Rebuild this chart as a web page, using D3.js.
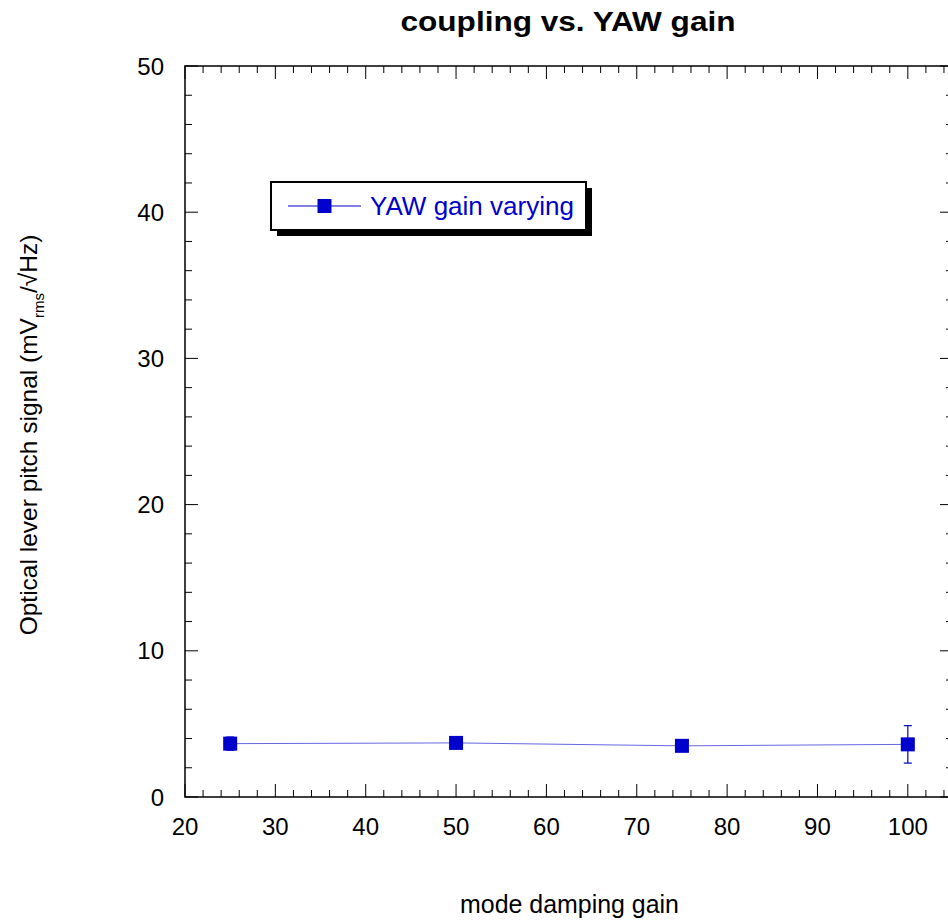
<!DOCTYPE html>
<html><head><meta charset="utf-8">
<script src="https://cdn.jsdelivr.net/npm/d3@7"></script>
<style>body{margin:0;background:#fff}svg{display:block}text{font-family:"Liberation Sans",Arial,sans-serif}</style>
</head><body>
<svg id="c" width="948" height="924"></svg>
<script>
const gains = [25, 50, 75, 100];
const signal = [3.65, 3.7, 3.5, 3.6];
const errors = [0.45, 0.2, 0.2, 1.28];
const xMajor = [20, 30, 40, 50, 60, 70, 80, 90, 100];
const yMajor = [0, 10, 20, 30, 40, 50];
const seriesName = "YAW gain varying";
const blue = "#0000cc";

const svg = d3.select("#c");
const L = 185, R = 953, T = 66, B = 797;
const x = d3.scaleLinear().domain([20, 105]).range([L, R]);
const y = d3.scaleLinear().domain([0, 50]).range([B, T]);
const xMinor = d3.range(20, 105, 2).filter(v => v % 10 !== 0);
const yMinor = d3.range(0, 50, 2).filter(v => v % 10 !== 0);

// frame
svg.append("rect").attr("x", L).attr("y", T).attr("width", R - L).attr("height", B - T)
  .attr("fill", "none").attr("stroke", "#000").attr("stroke-width", 1.5);

const tk = svg.append("g").attr("stroke", "#000").attr("stroke-width", 1);
function xt(vals, len) {
  vals.forEach(v => {
    tk.append("line").attr("x1", x(v)).attr("x2", x(v)).attr("y1", B).attr("y2", B - len);
    tk.append("line").attr("x1", x(v)).attr("x2", x(v)).attr("y1", T).attr("y2", T + len);
  });
}
function yt(vals, len) {
  vals.forEach(v => {
    tk.append("line").attr("y1", y(v)).attr("y2", y(v)).attr("x1", L).attr("x2", L + len);
    tk.append("line").attr("y1", y(v)).attr("y2", y(v)).attr("x1", R).attr("x2", R - len);
  });
}
xt(xMajor, 13); xt(xMinor, 7); yt(yMajor, 13); yt(yMinor, 7);

// tick labels
svg.append("g").selectAll("text").data(xMajor).join("text")
  .attr("x", d => x(d)).attr("y", 835).attr("text-anchor", "middle")
  .attr("font-size", 24).text(d => d);
svg.append("g").selectAll("text").data(yMajor).join("text")
  .attr("x", 164).attr("y", d => y(d) + 8.5).attr("text-anchor", "end")
  .attr("font-size", 24).text(d => d);

// title & labels
svg.append("text").attr("x", 568).attr("y", 31).attr("text-anchor", "middle")
  .attr("font-size", 27).attr("font-weight", "bold")
  .attr("textLength", 335).attr("lengthAdjust", "spacingAndGlyphs")
  .text("coupling vs. YAW gain");
svg.append("text").attr("x", 569.5).attr("y", 913).attr("text-anchor", "middle")
  .attr("font-size", 26).attr("textLength", 219).attr("lengthAdjust", "spacingAndGlyphs")
  .text("mode damping gain");
const yl = svg.append("text").attr("transform", "translate(37,435) rotate(-90)")
  .attr("text-anchor", "middle").attr("font-size", 24.5);
yl.append("tspan").text("Optical lever pitch signal (mV");
yl.append("tspan").attr("font-size", 15).attr("dy", 7).text("rms");
yl.append("tspan").attr("dy", -7).text("/\u221AHz)");

// data
const data = gains.map((g, i) => ({g, v: signal[i], e: errors[i]}));
svg.append("path").datum(data)
  .attr("d", d3.line().x(d => x(d.g)).y(d => y(d.v)))
  .attr("fill", "none").attr("stroke", blue).attr("stroke-width", 1).attr("stroke-opacity", 0.6);
const eb = svg.append("g").attr("stroke", blue).attr("stroke-width", 1.2);
data.forEach(d => {
  eb.append("line").attr("x1", x(d.g)).attr("x2", x(d.g)).attr("y1", y(d.v - d.e)).attr("y2", y(d.v + d.e));
  [d.v - d.e, d.v + d.e].forEach(t => eb.append("line")
    .attr("x1", x(d.g) - 4).attr("x2", x(d.g) + 4).attr("y1", y(t)).attr("y2", y(t)));
});
svg.append("g").selectAll("rect").data(data).join("rect")
  .attr("x", d => x(d.g) - 7).attr("y", d => y(d.v) - 7)
  .attr("width", 14).attr("height", 14).attr("fill", blue);

// legend
const lg = svg.append("g");
lg.append("rect").attr("x", 277).attr("y", 188).attr("width", 315).attr("height", 48).attr("fill", "#000");
lg.append("rect").attr("x", 271).attr("y", 182).attr("width", 315).attr("height", 48)
  .attr("fill", "#fff").attr("stroke", "#000").attr("stroke-width", 2);
lg.append("line").attr("x1", 288).attr("x2", 361).attr("y1", 206).attr("y2", 206)
  .attr("stroke", blue).attr("stroke-width", 1);
lg.append("rect").attr("x", 317.5).attr("y", 199).attr("width", 14).attr("height", 14).attr("fill", blue);
lg.append("text").attr("x", 370).attr("y", 215).attr("font-size", 25).attr("fill", blue)
  .attr("textLength", 204).attr("lengthAdjust", "spacingAndGlyphs").text(seriesName);
</script>
</body></html>
